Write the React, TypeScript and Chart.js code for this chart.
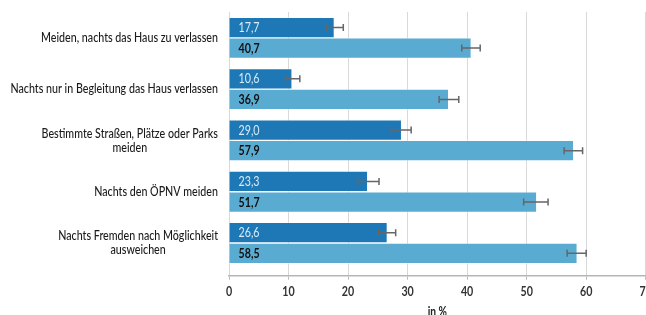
import React, { useEffect, useRef } from "react";
import { Chart, registerables } from "chart.js";

Chart.register(...registerables);

const categories: string[][] = [
  ["Meiden, nachts das Haus zu verlassen"],
  ["Nachts nur in Begleitung das Haus verlassen"],
  ["Bestimmte Straßen, Plätze oder Parks", "meiden"],
  ["Nachts den ÖPNV meiden"],
  ["Nachts Fremden nach Möglichkeit", "ausweichen"],
];
const darkValues = [17.7, 10.6, 29.0, 23.3, 26.6];
const lightValues = [40.7, 36.9, 57.9, 51.7, 58.5];
const darkLow = [16.3, 9.5, 27.3, 21.6, 25.1];
const darkHigh = [19.2, 11.9, 30.6, 25.2, 28.0];
const lightLow = [39.1, 35.3, 56.3, 49.5, 56.8];
const lightHigh = [42.2, 38.6, 59.4, 53.6, 60.0];
const xMin = 0;
const xMax = 70;
const xStep = 10;
const axisTitle = "in %";

const Y_MIN = -0.503;
const Y_MAX = 4.637;

const FONT = '"Lato", "DejaVu Sans Condensed", sans-serif';
const DARK = "#1f78b6";
const LIGHT = "#5aabd2";

const fmt = (v: number) => v.toFixed(1).replace(".", ",");

const lows = [darkLow, lightLow];
const highs = [darkHigh, lightHigh];
const labelColors = ["#d6ecf8", "#111111"];
const labelWeights = ["normal", "bold"];

function drawText(ctx: any, text: string, x: number, y: number, sx: number) {
  ctx.save();
  ctx.translate(x, y);
  ctx.scale(sx, 1);
  ctx.fillText(text, 0, 0);
  ctx.restore();
}

const overlayPlugin = {
  id: "overlay",
  afterDraw(chart: any) {
    const ctx = chart.ctx;
    const xs = chart.scales.x;
    const ys = chart.scales.y;
    const area = chart.chartArea;
    ctx.save();
    const catFont = `500 13px ${FONT}`;
    ctx.font = catFont;
    const sx = 177 / ctx.measureText(categories[0][0]).width;

    // error bars
    ctx.strokeStyle = "#666";
    ctx.lineWidth = 1.5;
    for (let d = 0; d < chart.data.datasets.length; d++) {
      const meta = chart.getDatasetMeta(d);
      meta.data.forEach((el: any, i: number) => {
        const y = el.y;
        const x1 = xs.getPixelForValue(lows[d][i]);
        const x2 = xs.getPixelForValue(highs[d][i]);
        ctx.beginPath();
        ctx.moveTo(x1, y);
        ctx.lineTo(x2, y);
        ctx.moveTo(x1, y - 3.5);
        ctx.lineTo(x1, y + 3.5);
        ctx.moveTo(x2, y - 3.5);
        ctx.lineTo(x2, y + 3.5);
        ctx.stroke();
      });
    }
    // value labels
    ctx.textAlign = "left";
    ctx.textBaseline = "middle";
    for (let d = 0; d < chart.data.datasets.length; d++) {
      const meta = chart.getDatasetMeta(d);
      ctx.fillStyle = labelColors[d];
      ctx.font = `${labelWeights[d]} 13px ${FONT}`;
      meta.data.forEach((el: any, i: number) => {
        const v = chart.data.datasets[d].data[i].x;
        drawText(ctx, fmt(v), el.base + 9, el.y + 0.5, sx);
      });
    }
    // category labels
    ctx.font = catFont;
    ctx.fillStyle = "#1a1a1a";
    ctx.textAlign = "center";
    const right = area.left - 11;
    const lh = 14;
    categories.forEach((lines, i) => {
      const cy = ys.getPixelForValue(i);
      let w = 0;
      lines.forEach((l) => (w = Math.max(w, ctx.measureText(l).width * sx)));
      const cx = right - w / 2;
      const y0 = cy - ((lines.length - 1) * lh) / 2;
      lines.forEach((l, k) => drawText(ctx, l, cx, y0 + k * lh, sx));
    });
    // x tick labels
    ctx.font = `bold 13px ${FONT}`;
    ctx.fillStyle = "#333";
    xs.ticks.forEach((t: any) => {
      drawText(ctx, String(t.value), xs.getPixelForValue(t.value), 292, sx);
    });
    // axis title
    ctx.font = `bold 12.5px ${FONT}`;
    ctx.fillStyle = "#222";
    drawText(ctx, axisTitle, (area.left + area.right) / 2, 312, sx);
    ctx.restore();
  },
};

export default function App() {
  const ref = useRef<HTMLCanvasElement | null>(null);
  useEffect(() => {
    if (!ref.current) return;
    const W = 665;
    const H = 320;
    const forceY = (s: any) => {
      s.min = Y_MIN;
      s.max = Y_MAX;
    };
    const chart = new Chart(ref.current, {
      type: "bar",
      data: {
        datasets: [
          {
            data: darkValues.map((v, i) => ({ x: v, y: i })) as any,
            backgroundColor: DARK,
            borderColor: "rgba(255,255,255,0.35)",
            borderWidth: 1,
            barThickness: 20.6,
          },
          {
            data: lightValues.map((v, i) => ({ x: v, y: i })) as any,
            backgroundColor: LIGHT,
            borderColor: "rgba(255,255,255,0.35)",
            borderWidth: 1,
            barThickness: 20.6,
          },
        ],
      },
      options: {
        indexAxis: "y",
        responsive: false,
        animation: false,
        devicePixelRatio: 1,
        layout: { padding: { left: 229, top: 12, right: W - 645.7, bottom: 0 } },
        plugins: { legend: { display: false }, tooltip: { enabled: false } },
        scales: {
          y: {
            type: "linear",
            display: false,
            reverse: true,
            offset: false,
            grace: 0,
            bounds: "data",
            min: Y_MIN,
            max: Y_MAX,
            grid: { offset: false },
            ticks: { stepSize: 1, includeBounds: false },
            afterDataLimits: forceY,
            afterBuildTicks: forceY,
          },
          x: {
            type: "linear",
            min: xMin,
            max: xMax,
            ticks: { stepSize: xStep, display: false },
            grid: { color: "#d9d9d9", lineWidth: 1, tickLength: 4, tickColor: "#bbb" },
            border: { color: "#b5b5b5", width: 1.5 },
            afterFit: (s: any) => {
              s.height = H - 275.7;
            },
          },
        },
      },
      plugins: [overlayPlugin],
    });
    return () => chart.destroy();
  }, []);
  return (
    <div style={{ position: "fixed", left: 0, top: 0, width: 646, height: 315, overflow: "hidden", background: "#fff" }}>
      <canvas ref={ref} width={665} height={320} style={{ width: 665, height: 320, display: "block" }} />
    </div>
  );
}
